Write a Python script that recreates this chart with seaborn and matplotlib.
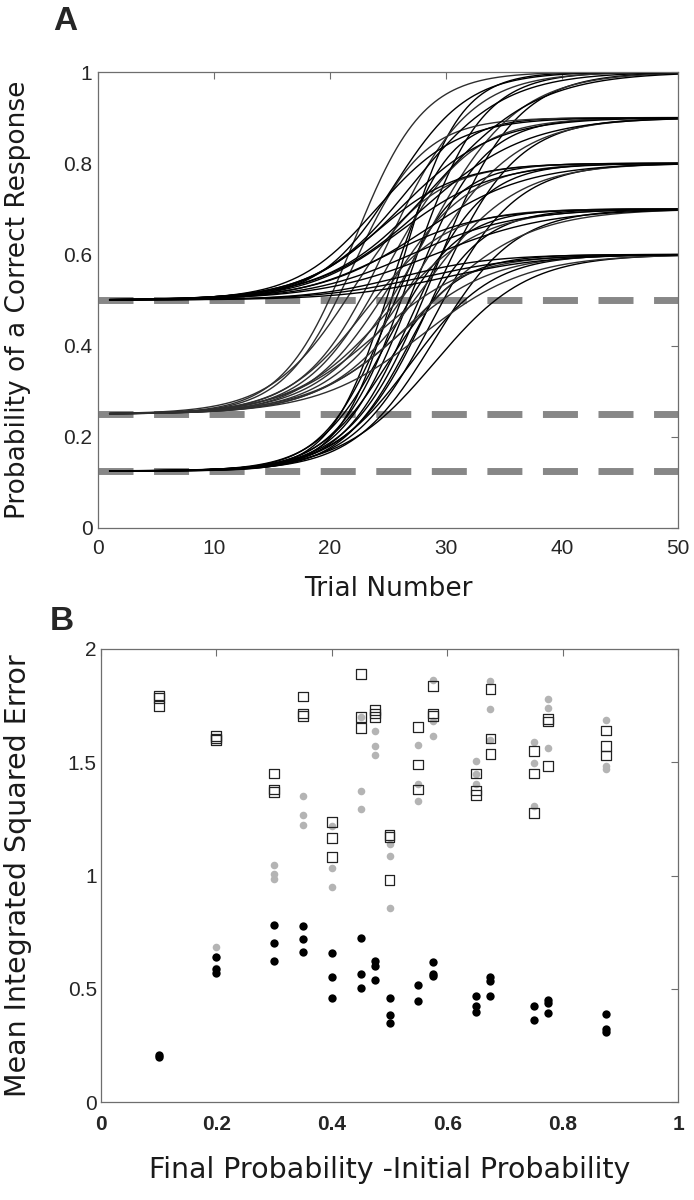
import numpy as np
import pandas as pd
import seaborn as sns
import matplotlib
matplotlib.use('Agg')
import matplotlib.pyplot as plt

# ---- panel A: fitted learning curves (chance level -> final level) ----
chance_levels = [0.5, 0.25, 0.125]
curve_start = [0.5] * 15 + [0.25] * 15 + [0.125] * 15
curve_end = ([0.6] * 3 + [0.7] * 3 + [0.8] * 3 + [0.9] * 3 + [1.0] * 3) * 3
# midpoint trial and spread of each fitted curve
curve_mid = [26, 28, 30, 25, 27, 29, 24, 26, 28, 24, 26, 28, 25.5, 27, 29,
             24, 26, 28, 23, 25, 28, 22, 25, 28, 22, 25, 28, 22, 25, 28,
             25, 27, 29, 25, 27, 29, 25, 27, 29, 25, 27, 29, 26, 27, 29]
curve_spread = [4.0, 4.5, 4.5, 4.0, 4.5, 5.0, 3.5, 4.0, 4.5, 3.5, 4.0, 4.5, 3.2, 4.0, 4.5,
                4.0, 4.0, 4.5, 3.5, 4.0, 4.5, 3.5, 3.5, 4.0, 3.0, 3.5, 4.0, 3.0, 3.5, 4.0,
                3.0, 3.5, 4.0, 3.0, 3.0, 3.5, 2.8, 3.0, 3.5, 2.5, 3.0, 3.5, 2.5, 3.0, 3.5]

# ---- panel B: mean integrated squared error per condition ----
diff_x = [0.1, 0.2, 0.3, 0.35, 0.4, 0.45, 0.475, 0.5, 0.55, 0.575, 0.65, 0.675, 0.75, 0.775, 0.875]
square_vals = [
    [1.795, 1.785, 1.75],
    [1.615, 1.605, 1.60],
    [1.45, 1.38, 1.37],
    [1.79, 1.715, 1.705],
    [1.235, 1.165, 1.08],
    [1.89, 1.70, 1.65],
    [1.73, 1.715, 1.70],
    [1.18, 1.17, 0.98],
    [1.655, 1.49, 1.38],
    [1.835, 1.715, 1.705],
    [1.45, 1.375, 1.355],
    [1.825, 1.605, 1.535],
    [1.55, 1.45, 1.275],
    [1.69, 1.68, 1.485],
    [1.64, 1.57, 1.53],
]
gray_vals = [
    [],
    [0.685, 0.64, 0.59],
    [1.045, 1.005, 0.985],
    [1.35, 1.265, 1.225],
    [1.22, 1.035, 0.948],
    [1.70, 1.375, 1.295],
    [1.64, 1.57, 1.53],
    [1.14, 1.085, 0.855],
    [1.575, 1.405, 1.33],
    [1.865, 1.68, 1.615],
    [1.505, 1.45, 1.405],
    [1.86, 1.735, 1.60],
    [1.59, 1.495, 1.305],
    [1.78, 1.74, 1.565],
    [1.685, 1.485, 1.47],
]
black_vals = [
    [0.208, 0.20],
    [0.64, 0.585, 0.57],
    [0.783, 0.70, 0.624],
    [0.776, 0.72, 0.664],
    [0.66, 0.551, 0.461],
    [0.723, 0.563, 0.503],
    [0.624, 0.60, 0.54],
    [0.458, 0.386, 0.348],
    [0.517, 0.448],
    [0.616, 0.566, 0.557],
    [0.466, 0.422, 0.397],
    [0.551, 0.534, 0.468],
    [0.422, 0.36],
    [0.45, 0.439, 0.392],
    [0.389, 0.323, 0.311],
]


def long_points(xs, vals):
    rows = []
    for x, vs in zip(xs, vals):
        for v in vs:
            rows.append((x, v))
    return pd.DataFrame(rows, columns=['diff', 'mise'])


def style_axes(ax):
    for sp in ax.spines.values():
        sp.set_visible(True)
        sp.set_color('#6e6e6e')
        sp.set_linewidth(0.9)
    ax.tick_params(direction='in', length=5, width=0.8, color='#6e6e6e',
                   top=True, right=True, labeltop=False, labelright=False)


sns.set_style('white')
plt.rcParams['font.family'] = ['Liberation Sans', 'DejaVu Sans']
label_a = dict(fontsize=19, family=['DejaVu Sans'], color='#1a1a1a')
label_b = dict(fontsize=20.5, family=['DejaVu Sans'], color='#1a1a1a')

fig = plt.figure(figsize=(6.94, 12.0), dpi=100)

# ---------------- panel A ----------------
axA = fig.add_axes([98 / 694, 1 - 528 / 1200, 580 / 694, 456 / 1200])
trials = np.linspace(1, 50, 300)
rows = []
for i, (a, b, m, s) in enumerate(zip(curve_start, curve_end, curve_mid, curve_spread)):
    p = a + (b - a) / (1 + np.exp(-(trials - m) / s))
    for t, v in zip(trials, p):
        rows.append((i, a, t, v))
curves = pd.DataFrame(rows, columns=['curve', 'start', 'trial', 'prob'])

for lev in chance_levels:
    axA.plot([0, 50], [lev, lev], color='#878787', lw=5.0, solid_capstyle='butt',
             dashes=(25.2 / 5.0, 14.8 / 5.0), zorder=1)

sns.lineplot(data=curves, x='trial', y='prob', units='curve', estimator=None,
             hue='start', palette={0.5: 'black', 0.25: '#2e2e2e', 0.125: 'black'},
             lw=1.0, legend=False, ax=axA, zorder=2)

axA.set_xlim(0, 50)
axA.set_ylim(0, 1)
axA.set_xticks([0, 10, 20, 30, 40, 50])
axA.set_xticklabels(['0', '10', '20', '30', '40', '50'])
axA.set_yticks([0, 0.2, 0.4, 0.6, 0.8, 1])
axA.set_yticklabels(['0', '0.2', '0.4', '0.6', '0.8', '1'])
style_axes(axA)
axA.tick_params(axis='x', labelsize=15, pad=8)
axA.tick_params(axis='y', labelsize=15, pad=4)
axA.set_xlabel('Trial Number', **label_a)
axA.set_ylabel('Probability of a Correct Response', **label_a)
axA.xaxis.set_label_coords(0.5, -0.105)
axA.yaxis.set_label_coords(-0.115, 0.5)

# ---------------- panel B ----------------
axB = fig.add_axes([101 / 694, 1 - 1102 / 1200, 577 / 694, 453 / 1200])
sq = long_points(diff_x, square_vals)
gr = long_points(diff_x, gray_vals)
bk = long_points(diff_x, black_vals)

sns.scatterplot(data=gr, x='diff', y='mise', color='#b4b4b4', s=30, linewidth=0,
                marker='o', ax=axB, zorder=2)
sns.scatterplot(data=sq, x='diff', y='mise', facecolor='none', edgecolor='#222222',
                s=50, linewidth=0.9, marker='s', ax=axB, zorder=3)
sns.scatterplot(data=bk, x='diff', y='mise', color='black', s=36, linewidth=0,
                marker='o', ax=axB, zorder=4)

axB.set_xlim(0, 1)
axB.set_ylim(0, 2)
axB.set_xticks([0, 0.2, 0.4, 0.6, 0.8, 1])
axB.set_xticklabels(['0', '0.2', '0.4', '0.6', '0.8', '1'], fontweight='bold')
axB.set_yticks([0, 0.5, 1, 1.5, 2])
axB.set_yticklabels(['0', '0.5', '1', '1.5', '2'])
style_axes(axB)
axB.tick_params(axis='x', labelsize=15, pad=9)
axB.tick_params(axis='y', labelsize=15, pad=3)
axB.set_xlabel('Final Probability -Initial Probability', **label_b)
axB.set_ylabel('Mean Integrated Squared Error', **label_b)
axB.xaxis.set_label_coords(0.5, -0.12)
axB.yaxis.set_label_coords(-0.12, 0.5)

fig.text(53 / 694, 1 - 30 / 1200, 'A', fontsize=24, fontweight='bold', va='baseline')
fig.text(50 / 694, 1 - 630 / 1200, 'B', fontsize=24, fontweight='bold', va='baseline')

fig.savefig('out.png', dpi=100)
